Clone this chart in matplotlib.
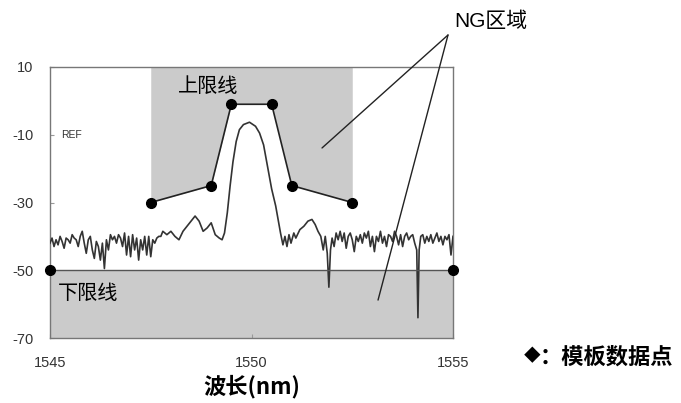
import numpy as np
import matplotlib
matplotlib.use("Agg")
import matplotlib.pyplot as plt

plt.rcParams['font.family'] = ['Liberation Sans', 'Noto Sans CJK SC', 'DejaVu Sans']
CJK = ['Noto Sans CJK SC', 'DejaVu Sans']

# 模板数据点 (upper mask)
mask_wl = [1547.5, 1549.0, 1549.5, 1550.5, 1551.0, 1552.5]
mask_db = [-30, -25, -1, -1, -25, -30]
# lower limit
low_wl = [1545.0, 1555.0]
low_db = [-50, -50]

noise_left = [
    (1545.00, -42), (1545.05, -40.5), (1545.10, -43), (1545.15, -41), (1545.20, -42.5),
    (1545.25, -40), (1545.30, -41.5), (1545.35, -43.5), (1545.40, -40.5), (1545.45, -41),
    (1545.50, -42), (1545.55, -39.5), (1545.60, -40.5), (1545.65, -41), (1545.70, -43),
    (1545.75, -40), (1545.80, -38.5), (1545.85, -42), (1545.90, -45), (1545.95, -41),
    (1546.00, -40), (1546.05, -44), (1546.10, -46.5), (1546.15, -41.5), (1546.20, -43),
    (1546.25, -47), (1546.30, -42), (1546.35, -49.5), (1546.40, -41), (1546.45, -44),
    (1546.50, -39.5), (1546.55, -41), (1546.60, -40), (1546.65, -42), (1546.70, -39.5),
    (1546.75, -40.5), (1546.80, -43), (1546.85, -39), (1546.90, -45.5), (1546.95, -40),
    (1547.00, -46), (1547.05, -39.5), (1547.10, -44), (1547.15, -40.5), (1547.20, -47),
    (1547.25, -41), (1547.30, -44), (1547.35, -40), (1547.40, -45.5), (1547.45, -40),
    (1547.50, -46), (1547.55, -41), (1547.60, -42), (1547.65, -40.5), (1547.70, -40),
]
shoulder_left = [
    (1547.75, -40), (1547.80, -38.5), (1547.90, -39.5), (1548.00, -38.5), (1548.10, -40),
    (1548.20, -41), (1548.30, -38.5), (1548.40, -37), (1548.50, -35.5), (1548.60, -34),
    (1548.70, -35.5), (1548.80, -38.5), (1548.90, -37.5), (1549.00, -36), (1549.10, -39.5),
    (1549.20, -40.5), (1549.27, -41), (1549.33, -39),
]
peak = [
    (1549.40, -33), (1549.47, -25), (1549.54, -18), (1549.62, -12), (1549.70, -8.5),
    (1549.80, -7), (1549.95, -6.3), (1550.10, -7.5), (1550.20, -9.5), (1550.30, -13),
    (1550.40, -19.5), (1550.50, -26), (1550.60, -31), (1550.66, -35), (1550.72, -39),
    (1550.78, -42.5),
]
shoulder_right = [
    (1550.83, -40), (1550.88, -43), (1550.93, -39.5), (1550.98, -42), (1551.05, -39),
    (1551.10, -40.5), (1551.20, -38), (1551.30, -37), (1551.40, -35.5), (1551.50, -35),
    (1551.58, -36.5), (1551.65, -38.5), (1551.72, -40), (1551.78, -44), (1551.83, -40),
    (1551.88, -45), (1551.92, -55), (1551.96, -44), (1552.00, -40.5),
]
noise_right = [
    (1552.05, -43), (1552.10, -39), (1552.15, -41), (1552.20, -38.5), (1552.25, -41.5),
    (1552.30, -39), (1552.35, -43.5), (1552.40, -40), (1552.45, -39), (1552.50, -41),
    (1552.55, -44.5), (1552.60, -40), (1552.65, -41.5), (1552.70, -39.5), (1552.75, -42),
    (1552.80, -39), (1552.85, -40.5), (1552.90, -38.5), (1552.95, -43), (1553.00, -40),
    (1553.05, -44.5), (1553.10, -40), (1553.15, -41.5), (1553.20, -38.5), (1553.25, -42),
    (1553.30, -40), (1553.35, -43), (1553.40, -39.5), (1553.45, -40), (1553.50, -41.5),
    (1553.55, -38.5), (1553.60, -40), (1553.65, -42.5), (1553.70, -39.5), (1553.75, -43),
    (1553.80, -40), (1553.85, -39), (1553.90, -41), (1553.95, -40), (1554.00, -39.5),
    (1554.05, -42), (1554.10, -44), (1554.13, -64), (1554.16, -44), (1554.20, -40),
    (1554.25, -39.5), (1554.30, -42), (1554.35, -40), (1554.40, -41.5), (1554.45, -39.5),
    (1554.50, -42), (1554.55, -40.5), (1554.60, -39), (1554.65, -41.5), (1554.70, -40),
    (1554.75, -42.5), (1554.80, -40), (1554.85, -41), (1554.90, -39.5), (1554.95, -45.5),
    (1555.00, -40),
]
spectrum = noise_left + shoulder_left + peak + shoulder_right + noise_right
spec_wl = np.array([p[0] for p in spectrum])
spec_db = np.array([p[1] for p in spectrum])

x_ticks = [1545, 1550, 1555]
y_ticks = [10, -10, -30, -50, -70]

W, H = 681, 403
fig = plt.figure(figsize=(W / 100, H / 100), dpi=100)
ax = fig.add_axes([50 / W, 1 - 338 / H, 403 / W, 271 / H])

gray = '#cbcbcb'
# NG areas
ax.fill_between(mask_wl, mask_db, 10, color=gray, lw=0, zorder=1)
ax.fill_between(low_wl, low_db, -70, color=gray, lw=0, zorder=1)

ax.plot(spec_wl, spec_db, color='#333333', lw=1.2, zorder=3)
ax.plot(low_wl, low_db, color='#555555', lw=1.0, zorder=4)
ax.plot(low_wl, low_db, 'o', color='black', ms=7, zorder=6, clip_on=False)
ax.plot(mask_wl, mask_db, '-o', color='#222222', lw=1.2, ms=7, mfc='black', mec='black', zorder=5)

ax.set_xlim(1545, 1555)
ax.set_ylim(-70, 10)
ax.set_xticks(x_ticks)
ax.set_xticklabels([str(t) for t in x_ticks])
ax.set_yticks(y_ticks)
ax.set_yticklabels([str(t) for t in y_ticks])
ax.tick_params(direction='in', length=3, color='#999999', labelsize=10.5, labelcolor='#333333')
ax.tick_params(axis='x', pad=13)
ax.tick_params(axis='y', pad=12)
for s in ax.spines.values():
    s.set_color('#777777')
    s.set_linewidth(1.0)

ax.text(1545.28, -10, 'REF', fontsize=7.5, va='center', ha='left', color='#333333')
ax.text(1548.92, 4.1, '上限线', family=CJK, fontsize=14.5, fontweight='medium',
        ha='center', va='center', zorder=7)
ax.text(1545.2, -57, '下限线', family=CJK, fontsize=14.5, fontweight='medium',
        ha='left', va='center', zorder=7)

# NG区域 callouts
start = (448 / W, 1 - 35 / H)
for target in [(1551.75, -13.9), (1553.14, -58.8)]:
    ax.annotate('', xy=target, xytext=start, textcoords='figure fraction',
                arrowprops=dict(arrowstyle='-', lw=1.0, color='#222222',
                                shrinkA=0, shrinkB=0),
                annotation_clip=False, zorder=8)
fig.text(491 / W, 1 - 21 / H, 'NG区域', family=['Liberation Sans'] + CJK, fontsize=15,
         ha='center', va='center')

fig.text(252 / W, 1 - 387 / H, '波长(nm)', family=CJK, fontsize=16, fontweight='bold',
         ha='center', va='center')
# legend note: small diamond + text
fig.text(532 / W, 1 - 357 / H, '◆', family=CJK, fontsize=12, ha='center', va='center')
fig.text(540 / W, 1 - 357 / H, '：模板数据点', family=CJK, fontsize=16, fontweight='bold',
         ha='left', va='center')

fig.savefig('out.png', dpi=100)
